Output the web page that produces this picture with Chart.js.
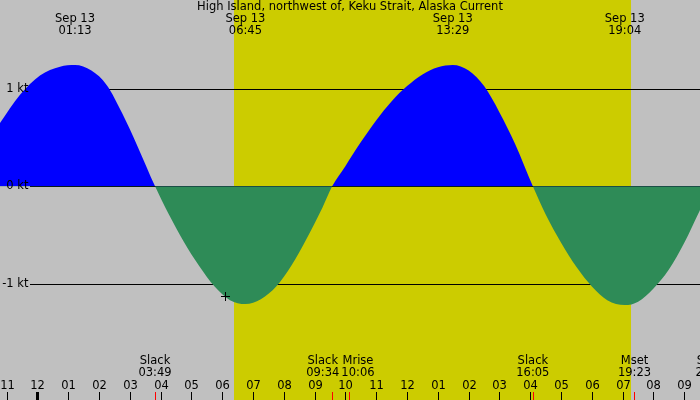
<!DOCTYPE html>
<html><head><meta charset="utf-8">
<script src="https://cdn.jsdelivr.net/npm/chart.js@4"></script>
<style>html,body{margin:0;padding:0;background:#c0c0c0}#wrap{width:700px;height:400px}canvas{display:block}</style>
</head><body><div id="wrap"><canvas id="c" width="700" height="400" style="width:700px;height:400px"></canvas></div>
<script>
const TITLE = "High Island, northwest of, Keku Strait, Alaska Current";
// time in hours from midnight Sep 13, current in knots
const hours = [-1.218,-0.568,0.081,0.731,1.217,1.75,2.25,2.75,3.25,3.817,4.25,4.75,5.25,5.75,6.25,6.75,7.25,7.75,8.25,8.75,9.25,9.567,10.0,10.5,11.0,11.5,12.0,12.5,13.0,13.483,14.0,14.5,15.0,15.5,16.083,16.5,17.0,17.5,18.0,18.5,19.067,19.5,20.0,20.5,21.0,21.5,21.9];
const knots = [0.65,0.94,1.14,1.23,1.247,1.19,1.04,0.75,0.41,0,-0.28,-0.57,-0.82,-1.03,-1.17,-1.21,-1.16,-1.03,-0.81,-0.53,-0.22,0,0.21,0.455,0.68,0.875,1.03,1.15,1.223,1.247,1.19,1.03,0.76,0.44,0,-0.29,-0.58,-0.83,-1.03,-1.17,-1.22,-1.185,-1.05,-0.855,-0.58,-0.25,0];
const peakTimes = [1.217, 6.75, 13.483, 19.067];
const peakLabels = ["01:13","06:45","13:29","19:04"];
const peakDate = "Sep 13";
const eventTimes = [3.817, 9.567, 10.1, 16.083, 19.383, 21.9];
const eventNames = ["Slack","Slack","Mrise","Slack","Mset","Slack"];
const eventLabels = ["03:49","09:34","10:06","16:05","19:23","21:54"];
const daylight = [6.38, 19.27];
const hourTicks = [-1,0,1,2,3,4,5,6,7,8,9,10,11,12,13,14,15,16,17,18,19,20,21];
const hourLabels = ["11","12","01","02","03","04","05","06","07","08","09","10","11","12","01","02","03","04","05","06","07","08","09"];
const ktTicks = [1,0,-1];
const ktLabels = ["1 kt","0 kt","-1 kt"];
const nowMarker = [{x:6.088, y:-1.127}];

const FONT = '11.5px "DejaVu Sans"';

const deco = {
  id:'deco',
  beforeDatasetsDraw(chart){
    const {ctx, scales:{x,y}} = chart;
    ctx.save();
    ctx.fillStyle='#c0c0c0';
    ctx.fillRect(0,0,chart.width,chart.height);
    const x0=x.getPixelForValue(daylight[0]), x1=x.getPixelForValue(daylight[1]);
    ctx.fillStyle='#cccc00';
    ctx.fillRect(x0,0,x1-x0,chart.height);
    ctx.strokeStyle='#000'; ctx.lineWidth=1;
    ktTicks.forEach(v=>{
      const py=Math.round(y.getPixelForValue(v))+0.5;
      ctx.beginPath(); ctx.moveTo(30,py); ctx.lineTo(chart.width,py); ctx.stroke();
    });
    ctx.restore();
  },
  afterDatasetsDraw(chart){
    const {ctx, scales:{x,y}} = chart;
    ctx.save();
    ctx.font=FONT; ctx.fillStyle='#000'; ctx.textBaseline='middle';
    ctx.textAlign='right';
    ktTicks.forEach((v,i)=>{ ctx.fillText(ktLabels[i], 28.5, y.getPixelForValue(v)); });
    ctx.textAlign='center';
    ctx.fillText(TITLE, 350, 7.5);
    peakTimes.forEach((t,i)=>{
      const px=x.getPixelForValue(t);
      ctx.fillText(peakDate, px, 19.5);
      ctx.fillText(peakLabels[i], px, 31.5);
    });
    hourTicks.forEach((h,i)=>{
      const px=Math.round(x.getPixelForValue(h));
      ctx.fillStyle='#000';
      if(h===0) ctx.fillRect(px-1,392,3,8); else ctx.fillRect(px,392,1,8);
      ctx.fillText(hourLabels[i], px+0.5, 386);
    });
    const pos = eventTimes.map((t,i)=>{
      const w=Math.max(ctx.measureText(eventNames[i]).width, ctx.measureText(eventLabels[i]).width);
      return {c:x.getPixelForValue(t), w};
    });
    for(let k=0;k<5;k++){
      for(let i=1;i<pos.length;i++){
        const p=pos[i-1], q=pos[i];
        const need=p.w/2+q.w/2+2, d=q.c-p.c;
        if(d<need){ const s=(need-d)/2; p.c-=s; q.c+=s; }
      }
    }
    eventTimes.forEach((t,i)=>{
      const px=Math.round(x.getPixelForValue(t));
      ctx.fillStyle='#ff0000';
      ctx.fillRect(px,392,1,8);
      ctx.fillStyle='#000';
      ctx.fillText(eventNames[i], pos[i].c, 361.5);
      ctx.fillText(eventLabels[i], pos[i].c, 373.5);
    });
    const mx=Math.round(x.getPixelForValue(nowMarker[0].x))+0.5, my=Math.round(y.getPixelForValue(nowMarker[0].y))+0.5;
    ctx.strokeStyle='#000'; ctx.lineWidth=1;
    ctx.beginPath(); ctx.moveTo(mx-4.5,my); ctx.lineTo(mx+4.5,my); ctx.moveTo(mx,my-4.5); ctx.lineTo(mx,my+4.5); ctx.stroke();
    ctx.restore();
  }
};

new Chart(document.getElementById('c'), {
  type:'line',
  data:{
    datasets:[
      {
        data: hours.map((h,i)=>({x:h, y:knots[i]})),
        borderColor:'rgba(0,0,0,0)', borderWidth:0, pointRadius:0, pointHoverRadius:0,
        cubicInterpolationMode:'monotone',
        fill:{target:'origin', above:'#0000ff', below:'#2e8b57'}
      }
    ]
  },
  options:{
    responsive:false, animation:false, devicePixelRatio:1,
    layout:{padding:0, autoPadding:false},
    plugins:{legend:{display:false}, tooltip:{enabled:false}, title:{display:false}},
    scales:{
      x:{type:'linear', min:-1.2175, max:21.51, display:false},
      y:{type:'linear', min:-2.196, max:1.915, display:false}
    },
    events:[]
  },
  plugins:[deco]
});
</script>
</body></html>
